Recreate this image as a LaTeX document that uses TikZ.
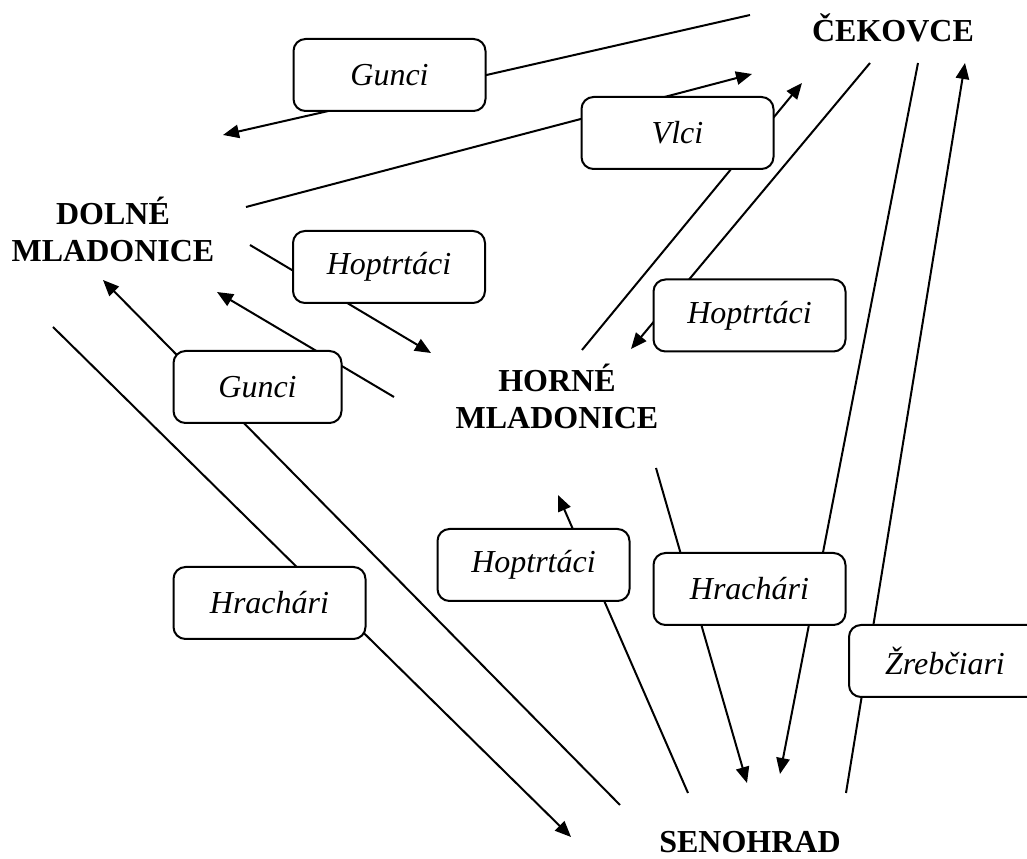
\documentclass[tikz,border=0pt]{standalone}
\usepackage{fontspec}
\setmainfont{Liberation Serif}
\usetikzlibrary{arrows.meta}
\tikzstyle{town} = [font=\fontsize{12}{13.9}\selectfont\bfseries, align=center, inner sep=0pt]
\tikzstyle{tribe} = [draw, fill=white, rounded corners=4.5pt, minimum width=72pt, minimum height=27pt, inner sep=0pt, font=\fontsize{12}{13.9}\selectfont\itshape]

\begin{document}
\begin{tikzpicture}[x=0.375pt,y=-0.375pt,line width=0.75pt,->,>={Triangle[length=6pt,width=5pt]}]
\useasboundingbox (0,0) rectangle (1027,859);

% villages
\node[town,anchor=base] (cekovce) at (893,42) {ČEKOVCE};
\node[town] (dolne) at (113,229) {DOLNÉ\\MLADONICE};
\node[town] (horne) at (557,396) {HORNÉ\\MLADONICE};
\node[town,anchor=base] (senohrad) at (750,853) {SENOHRAD};

% free ends of the roads
\coordinate (gunci_cek) at (750,15);
\coordinate (gunci_dol) at (223,135);
\coordinate (vlci_dol) at (246,207);
\coordinate (vlci_cek) at (752,74);
\coordinate (vlci_hor) at (582,350);
\coordinate (vlci_cek2) at (802,83);
\coordinate (hop_cek) at (870,63);
\coordinate (hop_hor) at (631,349);
\coordinate (hrach_cek) at (918,63);
\coordinate (hrach_sen) at (780,774);
\coordinate (zreb_sen) at (846,793);
\coordinate (zreb_cek) at (965,63);
\coordinate (hop_dol) at (250,245);
\coordinate (hop_hor2) at (431,353);
\coordinate (gunci_hor) at (394,397);
\coordinate (gunci_dol2) at (217,292);
\coordinate (gunci_sen) at (620,805);
\coordinate (gunci_dol3) at (103,280);
\coordinate (hrach_dol) at (53,327);
\coordinate (hrach_sen2) at (571,837);
\coordinate (hop_sen) at (688,793);
\coordinate (hop_hor3) at (558,495);
\coordinate (hrach_hor) at (656,468);
\coordinate (hrach_sen3) at (747,783);

\path
(gunci_cek) edge (gunci_dol)
(vlci_dol) edge (vlci_cek)
(vlci_hor) edge (vlci_cek2)
(hop_cek) edge (hop_hor)
(hrach_cek) edge (hrach_sen)
(zreb_sen) edge (zreb_cek)
(hop_dol) edge (hop_hor2)
(gunci_hor) edge (gunci_dol2)
(gunci_sen) edge (gunci_dol3)
(hrach_dol) edge (hrach_sen2)
(hop_sen) edge (hop_hor3)
(hrach_hor) edge (hrach_sen3);

% tribes
\node[tribe] (gunci_top) at (389.5,75) {Gunci};
\node[tribe] (vlci) at (677.5,133) {Vlci};
\node[tribe] (hop_left) at (389,267) {Hoptrtáci};
\node[tribe] (hop_right) at (749.5,315.5) {Hoptrtáci};
\node[tribe,minimum width=63pt] (gunci_mid) at (257.5,387) {Gunci};
\node[tribe] (hop_low) at (533.5,565) {Hoptrtáci};
\node[tribe] (hrach_left) at (269.5,603) {Hrachári};
\node[tribe] (hrach_right) at (749.5,589) {Hrachári};
\node[tribe] (zreb) at (945,661) {Žrebčiari};

\end{tikzpicture}
\end{document}
